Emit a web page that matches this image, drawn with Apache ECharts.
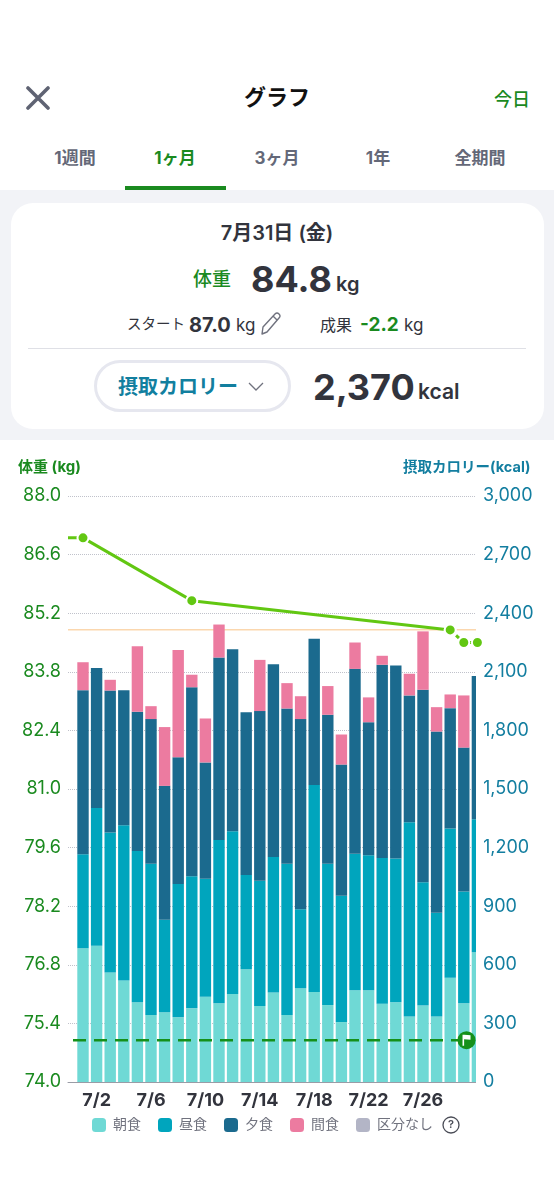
<!DOCTYPE html>
<html lang="ja">
<head>
<meta charset="utf-8">
<title>グラフ</title>
<script src="https://cdn.jsdelivr.net/npm/echarts@6/dist/echarts.min.js"></script>
<style>
html, body { margin: 0; padding: 0; }
body { width: 554px; height: 1200px; position: relative; overflow: hidden; background: #f2f3f7;
  font-family: Inter, "Noto Sans CJK JP", sans-serif; color: #32343d; }
.top { position: absolute; left: 0; top: 0; width: 554px; height: 190px; background: #fff; }
.t { position: absolute; white-space: nowrap; line-height: 1; }
.c { transform: translateX(-50%); }
.tab { top: 150px; font-size: 17px; font-weight: 700; color: #646878; }
.green { color: #1a8a1f; }
.card { position: absolute; left: 11px; top: 203px; width: 533px; height: 226px; background: #fff; border-radius: 22px; }
.rule { position: absolute; left: 28px; top: 348px; width: 498px; height: 1px; background: #dfe0e6; }
.pill { position: absolute; left: 94px; top: 360px; width: 191px; height: 46px; border: 3px solid #e6e7ef; border-radius: 26px; }
#main { position: absolute; left: 0; top: 440px; width: 554px; height: 760px; background: #fff; }
</style>
</head>
<body>
<div class="top"></div>
<svg style="position:absolute;left:26px;top:86px" width="24" height="24"><path d="M2 2L22 22M22 2L2 22" stroke="#5f6373" stroke-width="3.6" stroke-linecap="round"/></svg>
<div class="t c" style="left:277px;top:86px;font-size:22px;font-weight:700;color:#111">グラフ</div>
<div class="t green" style="left:494px;top:91px;font-size:18px;font-weight:500">今日</div>
<div class="t c tab" style="left:75px">1週間</div>
<div class="t c tab green" style="left:175px">1ヶ月</div>
<div class="t c tab" style="left:277px">3ヶ月</div>
<div class="t c tab" style="left:378px">1年</div>
<div class="t c tab" style="left:480px">全期間</div>
<div style="position:absolute;left:125px;top:186px;width:101px;height:4px;background:#1a8a1f"></div>

<div class="card"></div>
<div class="t c" style="left:277px;top:223px;font-size:20px;font-weight:600">7月31日 (金)</div>
<div class="t green" style="left:193px;top:270px;font-size:19px;font-weight:500">体重</div>
<div class="t" style="left:251px;top:261px;font-size:36px;font-weight:700">84.8</div>
<div class="t" style="left:336px;top:274px;font-size:20px;font-weight:600">kg</div>
<div class="t" style="left:127px;top:317px;font-size:14.5px;font-weight:400">スタート</div>
<div class="t" style="left:189px;top:315px;font-size:20px;font-weight:700">87.0</div>
<div class="t" style="left:236px;top:317px;font-size:17px">kg</div>
<svg style="position:absolute;left:258px;top:311px" width="24" height="26"><path d="M4 23L5 16L17 3Q19 1 21 3Q23 5 21 7L9 21Z M15 5L19 9" fill="none" stroke="#70727e" stroke-width="1.4" stroke-linejoin="round"/></svg>
<div class="t" style="left:320px;top:317px;font-size:16px">成果</div>
<div class="t green" style="left:360px;top:315px;font-size:19px;font-weight:700">-2.2</div>
<div class="t" style="left:404px;top:317px;font-size:17px">kg</div>
<div class="rule"></div>
<div class="pill"></div>
<div class="t" style="left:118px;top:377px;font-size:20px;font-weight:700;color:#127f9f">摂取カロリー</div>
<svg style="position:absolute;left:248px;top:382px" width="16" height="10"><path d="M1 1L8 8L15 1" fill="none" stroke="#70727e" stroke-width="1.3"/></svg>
<div class="t" style="left:313px;top:369px;font-size:36px;font-weight:700">2,370</div>
<div class="t" style="left:418px;top:381px;font-size:21px;font-weight:600">kcal</div>

<div id="main"></div>
<script>
// 日付 (7/1 = 1)
var days = [1,2,3,4,5,6,7,8,9,10,11,12,13,14,15,16,17,18,19,20,21,22,23,24,25,26,27,28,29,30];
var dayLabels = [2,6,10,14,18,22,26];

// 摂取カロリー kcal
var breakfast = [685,698,560,519,408,343,357,331,377,437,403,451,577,389,458,343,480,461,394,307,470,470,401,408,335,391,335,534,403,664];
var lunch = [481,705,717,796,775,774,473,683,676,604,836,833,483,641,694,774,404,1060,723,646,698,691,746,736,995,632,532,764,572,681];
var dinner = [840,716,727,691,712,741,686,649,968,595,934,932,833,869,987,795,974,748,763,672,947,681,989,988,649,985,927,616,737,733];
var snack = [143,0,55,0,336,66,301,548,64,225,169,0,0,262,0,130,117,0,147,154,135,127,46,0,111,299,125,70,267,0];

// 体重 kg
var weightDays = [1,9,28,29,30];
var weightKg = [87.0,85.5,84.8,84.5,84.5];
var weightTicks = [74.0,75.4,76.8,78.2,79.6,81.0,82.4,83.8,85.2,86.6,88.0];

var goalWeight = 75.0;
var goalKcal = 2315;

// 軸の表示範囲 (スクロール位置のため端数になる)
var dayMin = -0.103;
var dayMax = 29.897;
var goalStart = 0.265;
var goalEnd = 29.2;

var GREEN = '#1a8a1f';
var LIME = '#62c712';
var TEAL = '#137ea0';

function pairs(xs, ys) {
	return xs.map(function (x, i) { return [x, ys[i]]; });
}

// 値を先の次元に置かないと日付の方が積み上げられる
function barSeries(name, values, color) {
	return {
		name: name,
		type: 'bar',
		stack: 'kcal',
		yAxisIndex: 1,
		barWidth: 11.4,
		z: 3,
		encode: { x: 1, y: 0 },
		itemStyle: { color: color },
		data: values.map(function (v, i) { return [v, days[i]]; })
	};
}

var chart = echarts.init(document.getElementById('main'));

chart.setOption({
	animation: false,
	textStyle: { fontFamily: 'Inter, "Noto Sans CJK JP", sans-serif' },
	title: [
		{ text: '体重 (kg)', left: 18, top: 20, padding: 0, textStyle: { fontSize: 15, fontWeight: 700, color: GREEN } },
		{ text: '摂取カロリー(kcal)', left: 403, top: 20, padding: 0, textStyle: { fontSize: 14.5, fontWeight: 700, color: TEAL } }
	],
	legend: {
		left: 92,
		top: 678,
		padding: 0,
		itemWidth: 14,
		itemHeight: 14,
		itemGap: 17,
		icon: 'roundRect',
		textStyle: { fontSize: 14, color: '#70727e', padding: [0, 0, 0, 2] },
		data: ['朝食', '昼食', '夕食', '間食', '区分なし']
	},
	grid: { left: 68, top: 56, width: 408, height: 586 },
	xAxis: {
		type: 'value',
		min: dayMin,
		max: dayMax,
		splitLine: { show: false },
		axisTick: { show: false },
		axisLine: { show: true, onZero: false, lineStyle: { color: '#9a9ca6', width: 1 } },
		axisLabel: {
			customValues: dayLabels,
			margin: 10,
			fontSize: 18,
			fontWeight: 700,
			color: '#32343d',
			formatter: function (v) { return '7/' + v; }
		}
	},
	yAxis: [
		{
			type: 'value',
			min: 74,
			max: 88,
			position: 'left',
			axisLine: { show: false },
			axisTick: { show: false },
			splitLine: { show: false },
			axisLabel: {
				customValues: weightTicks,
				margin: 7,
				fontSize: 18,
				color: GREEN,
				formatter: function (v) { return v.toFixed(1); }
			}
		},
		{
			type: 'value',
			min: 0,
			max: 3000,
			interval: 300,
			position: 'right',
			axisLine: { show: false },
			axisTick: { show: false },
			splitLine: { show: true, lineStyle: { color: '#c0c2cb', type: 'dotted', width: 1 } },
			axisLabel: {
				margin: 7,
				fontSize: 18,
				color: TEAL,
				formatter: function (v) { return v.toLocaleString('en-US'); }
			}
		}
	],
	series: [
		{
			name: '目標カロリー',
			type: 'line',
			yAxisIndex: 1,
			z: 1,
			symbol: 'none',
			lineStyle: { color: '#fbd7ae', width: 1.5 },
			data: [[dayMin, goalKcal], [dayMax, goalKcal]]
		},
		barSeries('朝食', breakfast, '#6fd9d5'),
		barSeries('昼食', lunch, '#00a5bd'),
		barSeries('夕食', dinner, '#1b6a8e'),
		barSeries('間食', snack, '#ec7ba0'),
		barSeries('区分なし', [], '#b3b5c6'),
		{
			name: '目標体重',
			type: 'line',
			yAxisIndex: 0,
			z: 5,
			symbol: 'none',
			lineStyle: { color: '#15901a', width: 2.5, type: [13, 8] },
			data: [[goalStart, goalWeight], [goalEnd, goalWeight]]
		},
		{
			name: '目標マーク',
			type: 'scatter',
			yAxisIndex: 0,
			z: 6,
			symbolSize: 18,
			itemStyle: { color: '#15901a', opacity: 1 },
			data: [[goalEnd, goalWeight]]
		},
		{
			name: '目標旗',
			type: 'scatter',
			yAxisIndex: 0,
			z: 7,
			symbol: 'path://M0 0L1 0L1 0.1L5 0.6L5 4.6L1 4.2L1 10L0 10Z',
			symbolSize: [8, 11],
			itemStyle: { color: '#fff', opacity: 1 },
			data: [[goalEnd, goalWeight]]
		},
		{
			name: '体重前',
			type: 'line',
			yAxisIndex: 0,
			z: 6,
			symbol: 'none',
			lineStyle: { color: LIME, width: 3 },
			data: [[dayMin, weightKg[0]], [0.55, weightKg[0]]]
		},
		{
			name: '体重',
			type: 'line',
			yAxisIndex: 0,
			z: 7,
			clip: false,
			symbol: 'circle',
			symbolSize: 11,
			showSymbol: true,
			itemStyle: { color: LIME, borderColor: '#fff', borderWidth: 2 },
			lineStyle: { color: LIME, width: 3 },
			data: pairs(weightDays.slice(0, 3), weightKg.slice(0, 3))
		},
		{
			name: '体重点線',
			type: 'line',
			yAxisIndex: 0,
			z: 7,
			clip: false,
			symbol: 'circle',
			symbolSize: 11,
			showSymbol: true,
			itemStyle: { color: LIME, borderColor: '#fff', borderWidth: 2 },
			lineStyle: { color: LIME, width: 3, type: [4, 4] },
			data: pairs(weightDays.slice(2), weightKg.slice(2))
		}
	],
	graphic: [
		// 数値軸の棒はグリッド端で切られないので右端を隠す
		{
			type: 'rect',
			z: 4,
			shape: { x: 476, y: 56, width: 8, height: 587 },
			style: { fill: '#fff' }
		},
		{
			type: 'circle',
			shape: { cx: 451, cy: 685, r: 8 },
			style: { fill: 'none', stroke: '#4a4c56', lineWidth: 1.3 }
		},
		{
			type: 'text',
			x: 451,
			y: 685,
			style: { text: '?', fill: '#4a4c56', font: '600 11px Inter', align: 'center', verticalAlign: 'middle' }
		}
	]
});
</script>
</body>
</html>
